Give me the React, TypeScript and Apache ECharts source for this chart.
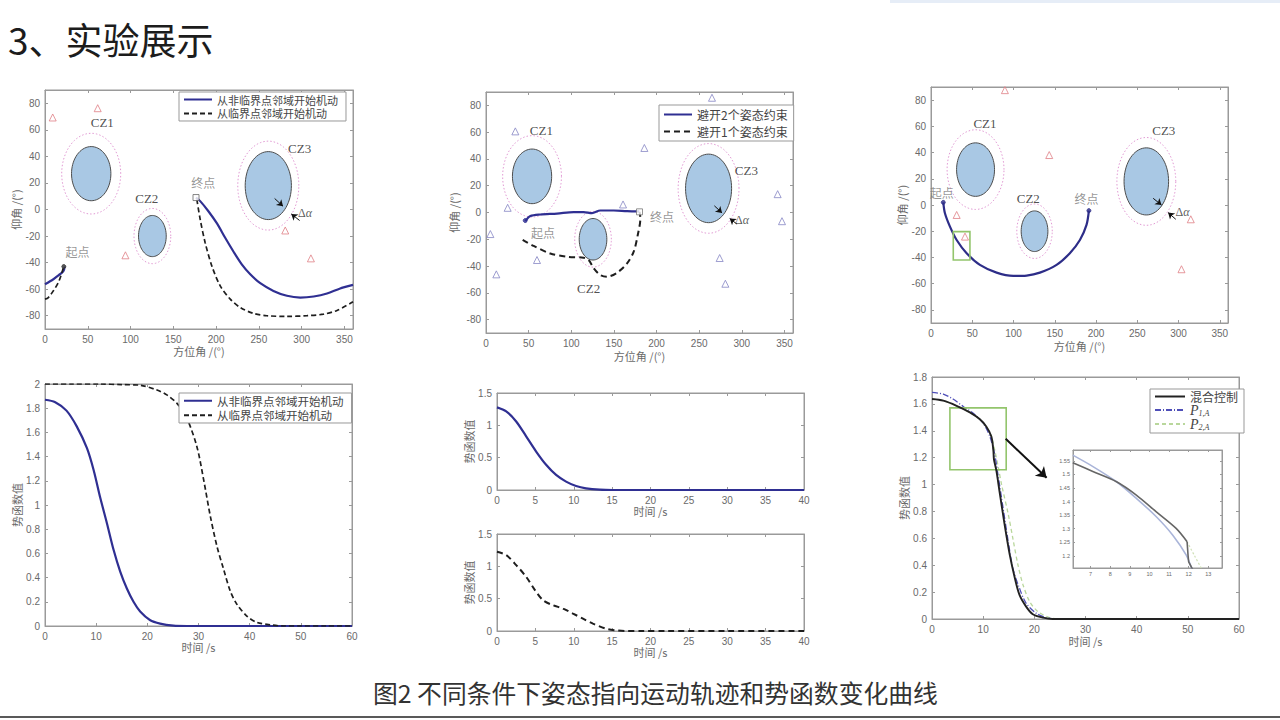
import React, { useEffect, useRef } from "react";
import * as echarts from "echarts";

// ---------- text ----------
const pageTitle = "3、实验展示";
const caption = "图2 不同条件下姿态指向运动轨迹和势函数变化曲线";
const N1 = "从非临界点邻域开始机动";
const N2 = "从临界点邻域开始机动";
const M1 = "避开2个姿态约束";
const M2 = "避开1个姿态约束";
const H1 = "混合控制";
const P1 = "P1,A";
const P2 = "P2,A";

// ---------- ticks ----------
const azTicks = [0, 50, 100, 150, 200, 250, 300, 350];
const elTicks = [-80, -60, -40, -20, 0, 20, 40, 60, 80];
const t60Ticks = [0, 10, 20, 30, 40, 50, 60];
const v2Ticks = [0, 0.2, 0.4, 0.6, 0.8, 1, 1.2, 1.4, 1.6, 1.8, 2];
const t40Ticks = [0, 5, 10, 15, 20, 25, 30, 35, 40];
const v15Ticks = [0, 0.5, 1, 1.5];
const v18Ticks = [0, 0.2, 0.4, 0.6, 0.8, 1, 1.2, 1.4, 1.6, 1.8];
const inXTicks = [7, 8, 9, 10, 11, 12, 13];
const inYTicks = [1.2, 1.25, 1.3, 1.35, 1.4, 1.45, 1.5, 1.55];

// ---------- constraint zones: cx, cy, rx, ry, outer rx, outer ry ----------
const zones = [
  [54, 27, 23, 20.4, 34.5, 30.4],
  [125.5, -20, 16.2, 15.5, 21.5, 20.8],
  [261, 18, 27, 25.6, 35.7, 33.5],
];

// ---------- chart 1 ----------
const c1SolidA = [[0, -56.3], [9.8, -52.5], [16, -49.5], [21.5, -46.5], [23, -43]];
const c1SolidB = [[176.5, 9], [181.4, 6.3], [191, -1.3], [201, -10.5], [210.6, -21.3], [220.4, -31.8], [230, -41.3], [239.9, -48.8], [251.6, -55.5], [267, -61.3], [282.8, -65], [298.4, -66.3], [314, -65.5], [329.6, -63.3], [345, -59.5], [360, -56.8]];
const c1DashA = [[0, -67.5], [3.9, -66.3], [10, -61], [15.6, -55], [19, -49], [21.5, -43.8]];
const c1DashB = [[177.5, 7.5], [181.4, -7.5], [187.2, -25], [195, -42.5], [204.8, -57.5], [216.5, -67.5], [228.2, -73.8], [243.8, -78.3], [259.4, -80], [282.8, -80.5], [306.2, -80], [325.7, -78.8], [341.3, -76], [360, -69.5]];
const c1Tri = [[9, 69.3], [61.6, 76.3], [94, -34.5], [280.8, -15.8], [310.8, -36.8]];
const c1Labels = [[67, 65.5, "CZ1"], [119, 8, "CZ2"], [297.6, 46, "CZ3"], [185, 20, "终点"], [38, -32, "起点"], [304, -2.5, "Δα"]];
const c1Arrows = [[[268.4, 8.3], [278.2, 2.5]], [[297.6, -8.3], [287.9, -3.3]]];
const c1Start = [[22, -43]];
const c1End = [[176.5, 9]];

// ---------- chart 2 ----------
const c2Solid = [[46.1, -6.5], [52, -2.7], [63.7, -1.5], [83.3, -0.8], [102.8, 0.3], [114.5, 0.3], [124.3, -0.5], [134, 1.5], [149.7, 1.5], [165.4, 1], [179.8, 0.8]];
const c2Dash = [[43, -20.4], [55.9, -25], [75.4, -30.6], [95, -33], [114.5, -33.8], [120.4, -35.5], [126.3, -41.7], [134, -46.7], [141.9, -48], [153.6, -45], [165.4, -38], [173.2, -29.3], [177.9, -17], [181, -4.5], [180.2, 0.5]];
const c2Tri = [[34.4, 60.6], [265, 85.7], [185.7, 48.2], [160.7, 6], [25.4, 3.5], [5.1, -16.1], [12.1, -46.2], [59.8, -35.5], [274, -34], [280.7, -53.2], [342, 13.7], [347.1, -6.5]];
const c2Labels = [[64.9, 61.4, "CZ1"], [120.4, -57, "CZ2"], [305.3, 31.5, "CZ3"], [206.4, -3.2, "终点"], [66.8, -15, "起点"], [300.2, -5.7, "Δα"]];
const c2Arrows = [[[267.8, 5], [276.8, -0.3]], [[294.4, -8.7], [285.8, -4.5]]];
const c2Start = [[46, -6]];
const c2End = [[180, 0.5]];

// ---------- chart 3 ----------
const c3Solid = [[14.9, 2], [16.9, -6.3], [23, -16.5], [31.1, -26.7], [43.2, -36.8], [59.3, -45.7], [79.5, -51.6], [99.7, -54.1], [115.9, -53.8], [132, -51.6], [152.2, -45.7], [168.3, -36.8], [180.5, -26.7], [188.5, -15.2], [191.4, -4.3]];
const c3Tri = [[89.6, 87.6], [143.3, 38.1], [31.1, -7.6], [41.2, -24.1], [303.6, -49], [314.9, -10.9]];
const c3Labels = [[12.9, 9.4, "起点"], [188.5, 5, "终点"], [65.4, 62.2, "CZ1"], [117.9, 5, "CZ2"], [282.2, 56.6, "CZ3"], [304.8, -5, "Δα"]];
const c3Arrows = [[[269.3, 5.1], [279.4, 0]], [[296.7, -10.9], [287.4, -5.8]]];
const c3Rect = [[27, -20.3, 47.2, -41.9]];
const c3Ends = [[14.9, 2], [191.4, -4.3]];

// ---------- chart 4 ----------
const c4Solid = [[0, 1.87], [2, 1.85], [4.2, 1.78], [6.2, 1.65], [8.2, 1.47], [9.5, 1.29], [10.8, 1.06], [12.1, 0.85], [13.4, 0.63], [14.7, 0.45], [16, 0.31], [17.3, 0.2], [18.6, 0.12], [20.5, 0.05], [22.5, 0.02], [25.1, 0.003], [27.7, 0], [30, 0], [40, 0], [50, 0], [60, 0]];
const c4Dash = [[0, 2], [5, 2], [10.8, 2], [15, 1.995], [18.6, 1.99], [21.9, 1.95], [23.8, 1.91], [25.8, 1.84], [27.7, 1.72], [29.7, 1.48], [31, 1.21], [32.3, 0.91], [33.6, 0.66], [34.9, 0.47], [36.2, 0.29], [37.5, 0.18], [39.5, 0.08], [41.4, 0.03], [44, 0.01], [46.6, 0], [50, 0], [55, 0], [60, 0]];

// ---------- chart 5 / 6 ----------
const c5Solid = [[0, 1.278], [1.2, 1.216], [2.5, 1.06], [3.8, 0.83], [5.1, 0.595], [6.4, 0.39], [7.7, 0.233], [9, 0.13], [10.3, 0.062], [11.6, 0.026], [13.4, 0.005], [15.1, 0], [17, 0], [20, 0], [30, 0], [40, 0]];
const c6Dash = [[0, 1.226], [1.2, 1.174], [2.5, 1.019], [3.8, 0.838], [4.9, 0.64], [6, 0.476], [7.3, 0.398], [8.6, 0.347], [9.9, 0.269], [11.2, 0.191], [12.5, 0.114], [14.2, 0.036], [15.5, 0.01], [16.8, 0], [19, 0], [22, 0], [30, 0], [40, 0]];

// ---------- chart 7 ----------
const c7Mix = [[0, 1.636], [2.2, 1.624], [4.8, 1.586], [7.4, 1.537], [9.3, 1.487], [10.6, 1.432], [11.6, 1.358], [12, 1.25], [12.1, 1.19], [12.6, 1.1], [13.2, 0.948], [14.2, 0.7], [15.2, 0.477], [16.2, 0.303], [17.1, 0.179], [18.4, 0.092], [19.7, 0.035], [21.7, 0.01], [23.6, 0], [26, 0], [30, 0], [45, 0], [60, 0]];
const c7P1 = [[0, 1.686], [2.2, 1.673], [4.1, 1.636], [6.1, 1.581], [8, 1.532], [10, 1.457], [11.3, 1.358], [12.2, 1.234], [12.9, 1.072], [13.9, 0.824], [14.9, 0.576], [15.8, 0.377], [17.1, 0.228], [18.4, 0.117], [20.4, 0.042], [22.3, 0.01], [24.3, 0], [27, 0], [30, 0], [45, 0], [60, 0]];
const c7P2 = [[0, 1.636], [2.2, 1.624], [4.8, 1.586], [7.4, 1.537], [9.3, 1.487], [10.6, 1.432], [11.6, 1.36], [12.3, 1.25], [12.9, 1.14], [13.6, 1.0], [14.9, 0.78], [15.8, 0.6], [16.8, 0.402], [17.8, 0.253], [19.1, 0.129], [20.7, 0.055], [23, 0.01], [25, 0], [28, 0], [32, 0], [45, 0], [60, 0]];
const c7Rect = [[3.5, 1.57, 14.5, 1.11]];
const c7Arrow = [[[14.4, 1.34], [22.4, 1.05]]];

// ---------- inset ----------
const inMixA = [[6.09, 1.543], [7.14, 1.51], [8.32, 1.473], [9.33, 1.424], [10.35, 1.362], [11.36, 1.301], [11.92, 1.252]];
const inMixB = [[11.92, 1.252], [11.97, 1.2], [12.0, 1.178], [12.2, 1.15]];
const inP1 = [[6.09, 1.571], [7.14, 1.528], [8.32, 1.473], [9.33, 1.412], [10.35, 1.344], [11.19, 1.276], [11.87, 1.203], [12.17, 1.15]];
const inP2 = [[11.92, 1.252], [12.3, 1.2], [12.68, 1.15]];

// ---------- styling ----------
const AX = "#9a9a9a";
const LBL = "#6a6a6a";
const CJK = "Noto Sans CJK SC";
const NAVY = "#2f2f92";

const grids = [
  { left: 45, top: 90, width: 308, height: 239 },
  { left: 486, top: 92, width: 307, height: 241 },
  { left: 931, top: 87, width: 297, height: 236 },
  { left: 45, top: 384, width: 307, height: 242 },
  { left: 497, top: 393, width: 307, height: 97 },
  { left: 497, top: 534, width: 307, height: 97 },
  { left: 932, top: 377, width: 307, height: 242 },
  { left: 1073, top: 450, width: 149, height: 118 },
];

function mkAxes(dim: "x" | "y", gi: number, min: number, max: number, ticks: number[], name?: string, gap?: number, fs = 10) {
  const base: any = {
    type: "value", gridIndex: gi, min, max,
    splitLine: { show: false },
    axisLine: { show: true, onZero: false, lineStyle: { color: AX, width: 1 } },
    axisTick: { show: true, inside: true, length: fs < 8 ? 2 : 3, customValues: ticks, lineStyle: { color: AX } },
  };
  const main = {
    ...base,
    position: dim === "x" ? "bottom" : "left",
    name, nameLocation: "middle", nameGap: gap,
    nameTextStyle: { color: "#6a6a6a", fontSize: 11, fontFamily: CJK },
    axisLabel: { show: true, customValues: ticks, color: LBL, fontSize: fs, fontFamily: "Liberation Sans", margin: fs < 8 ? 3 : 5 },
  };
  const mirror = { ...base, position: dim === "x" ? "top" : "right", axisLabel: { show: false } };
  return [main, mirror];
}

const xAxes: any[] = [
  ...mkAxes("x", 0, 0, 360, azTicks, "方位角 /(°)", 16),
  ...mkAxes("x", 1, 0, 360, azTicks, "方位角 /(°)", 17),
  ...mkAxes("x", 2, 0, 360, azTicks, "方位角 /(°)", 17),
  ...mkAxes("x", 3, 0, 60, t60Ticks, "时间 /s", 15),
  ...mkAxes("x", 4, 0, 40, t40Ticks, "时间 /s", 14),
  ...mkAxes("x", 5, 0, 40, t40Ticks, "时间 /s", 14),
  ...mkAxes("x", 6, 0, 60, t60Ticks, "时间 /s", 16),
  ...mkAxes("x", 7, 6.1, 13.7, inXTicks, undefined, undefined, 5.5),
];
const yAxes: any[] = [
  ...mkAxes("y", 0, -90, 90, elTicks, "仰角 /(°)", 24),
  ...mkAxes("y", 1, -90, 90, elTicks, "仰角 /(°)", 27),
  ...mkAxes("y", 2, -90, 90, elTicks, "仰角 /(°)", 21),
  ...mkAxes("y", 3, 0, 2, v2Ticks, "势函数值", 21),
  ...mkAxes("y", 4, 0, 1.5, v15Ticks, "势函数值", 18),
  ...mkAxes("y", 5, 0, 1.5, v15Ticks, "势函数值", 18),
  ...mkAxes("y", 6, 0, 1.8, v18Ticks, "势函数值", 20),
  ...mkAxes("y", 7, 1.155, 1.59, inYTicks, undefined, undefined, 5.5),
];

const ax = (gi: number) => ({ xAxisIndex: gi * 2, yAxisIndex: gi * 2 });

function line(gi: number, name: string, data: number[][], ls: any, extra: any = {}) {
  return { type: "line", name, ...ax(gi), data, symbol: "none", smooth: 0.3, lineStyle: ls, itemStyle: { color: ls.color }, z: 4, silent: true, ...extra };
}

function zoneSeries(gi: number) {
  return {
    type: "custom", name: "zones" + gi, ...ax(gi), data: zones, encode: { x: 0, y: 1 }, z: 2, silent: true,
    renderItem: (_p: any, api: any) => {
      const cx = api.value(0), cy = api.value(1);
      const ring = (a: number, b: number) => {
        const pts: number[][] = [];
        for (let k = 0; k <= 72; k++) {
          const t = (k / 72) * Math.PI * 2;
          pts.push(api.coord([cx + a * Math.cos(t), cy + b * Math.sin(t)]));
        }
        return pts;
      };
      return {
        type: "group",
        children: [
          { type: "polygon", shape: { points: ring(api.value(4), api.value(5)) }, style: { fill: "none", stroke: "#e29ad4", lineWidth: 1, lineDash: [1.5, 2] } },
          { type: "polygon", shape: { points: ring(api.value(2), api.value(3)) }, style: { fill: "#a9c8e4", stroke: "#4d4d4d", lineWidth: 1 } },
        ],
      };
    },
  };
}

function rectSeries(gi: number, data: number[][]) {
  return {
    type: "custom", name: "rect" + gi, ...ax(gi), data, encode: { x: [0, 2], y: [1, 3] }, z: 5, silent: true,
    renderItem: (_p: any, api: any) => {
      const a = api.coord([api.value(0), api.value(1)]);
      const b = api.coord([api.value(2), api.value(3)]);
      return {
        type: "rect",
        shape: { x: Math.min(a[0], b[0]), y: Math.min(a[1], b[1]), width: Math.abs(b[0] - a[0]), height: Math.abs(b[1] - a[1]) },
        style: { fill: "none", stroke: "#93c56c", lineWidth: 1.6 },
      };
    },
  };
}

function labelStyle(t: string) {
  if (t.startsWith("CZ")) return { fontFamily: "Liberation Serif", fontSize: 13, color: "#222" };
  if (t === "Δα") return { formatter: "{a|Δ}{b|α}", rich: { a: { fontFamily: "Liberation Serif", fontSize: 12, color: "#333" }, b: { fontFamily: "Liberation Serif", fontStyle: "italic", fontSize: 12, color: "#333" } } };
  return { fontFamily: CJK, fontSize: 12, color: "#7a7a7a" };
}

function labelSeries(gi: number, labels: any[]) {
  return {
    type: "scatter", name: "labels" + gi, ...ax(gi), symbolSize: 1, itemStyle: { color: "rgba(0,0,0,0)" }, silent: true, z: 7,
    label: { show: true, position: "inside" },
    data: labels.map(([x, y, t]) => ({ value: [x, y], label: { formatter: t, ...labelStyle(t) } })),
  };
}

function triSeries(gi: number, data: number[][], color: string) {
  return { type: "scatter", name: "tri" + gi, ...ax(gi), data, symbol: "triangle", symbolSize: 7, silent: true, z: 5, itemStyle: { color: "rgba(255,255,255,0)", borderColor: color, borderWidth: 1 } };
}

function arrowSeries(gi: number, data: number[][][], width = 1, size = 6) {
  return {
    type: "lines", name: "arrows" + gi, coordinateSystem: "cartesian2d", ...ax(gi), silent: true, z: 6,
    symbol: ["none", "arrow"], symbolSize: size,
    lineStyle: { color: "#111", width, opacity: 1, curveness: 0 },
    data: data.map((c) => ({ coords: c })),
  };
}

function markerSeries(gi: number, data: number[][], symbol: string, size: number, fill: string, border: string) {
  return { type: "scatter", name: "mk" + gi + symbol, ...ax(gi), data, symbol, symbolSize: size, silent: true, z: 6, itemStyle: { color: fill, borderColor: border, borderWidth: 1 } };
}

const SOLID = { color: NAVY, width: 2.2 };
const DASH = { color: "#1e1e1e", width: 1.7, type: [5, 3] };

const legendBase = {
  orient: "vertical", selectedMode: false, borderColor: "#999", borderWidth: 1, backgroundColor: "#fff",
  itemWidth: 28, itemHeight: 12, itemGap: 3, padding: [2, 8, 2, 4], z: 10,
  itemStyle: { opacity: 0 },
  textStyle: { fontFamily: CJK, fontSize: 11, color: "#444" },
};

const option: any = {
  animation: false,
  backgroundColor: "#fff",
  title: [
    { text: pageTitle, left: 3, top: 15, textStyle: { fontFamily: CJK, fontSize: 37, fontWeight: "normal", color: "#1c1c1c" } },
    { text: caption, left: 368, top: 675, textStyle: { fontFamily: CJK, fontSize: 24.8, fontWeight: "normal", color: "#333" } },
  ],
  graphic: [
    { type: "rect", shape: { x: 890, y: 0, width: 390, height: 3 }, style: { fill: "#e6edf7" } },
    { type: "line", shape: { x1: 0, y1: 717, x2: 1280, y2: 717 }, style: { stroke: "#222", lineWidth: 1.5 } },
  ],
  grid: grids.map((g) => ({ ...g, show: true, borderColor: AX, borderWidth: 1, backgroundColor: "#fff", containLabel: false })),
  xAxis: xAxes,
  yAxis: yAxes,
  legend: [
    { ...legendBase, data: [N1, N2], left: 179, top: 92 },
    { ...legendBase, data: [M1, M2], left: 659, top: 105, itemHeight: 10, itemGap: 2, padding: [2, 6, 2, 4], textStyle: { fontFamily: CJK, fontSize: 12, color: "#444", lineHeight: 15 } },
    { ...legendBase, data: [N1, N2], left: 179, top: 393, itemGap: 3, textStyle: { fontFamily: CJK, fontSize: 11.5, color: "#444" } },
    {
      ...legendBase, data: [H1, P1, P2], left: 1150, top: 389, itemWidth: 30, itemHeight: 10, itemGap: 0, padding: [1, 6, 2, 4],
      formatter: (n: string) => (n === H1 ? n : `{i|P}{s|${n.slice(1)}}`),
      textStyle: {
        fontFamily: CJK, fontSize: 12, color: "#444", lineHeight: 13,
        rich: {
          i: { fontFamily: "Liberation Serif", fontStyle: "italic", fontSize: 14, color: "#444", lineHeight: 13 },
          s: { fontFamily: "Liberation Serif", fontStyle: "italic", fontSize: 8, color: "#444", padding: [6, 0, 0, 0], lineHeight: 13 },
        },
      },
    },
  ],
  series: [
    // chart 1
    zoneSeries(0),
    triSeries(0, c1Tri, "#e07f86"),
    line(0, N1, c1SolidA, SOLID),
    line(0, N1, c1SolidB, SOLID),
    line(0, N2, c1DashA, DASH),
    line(0, N2, c1DashB, DASH),
    markerSeries(0, c1Start, "circle", 4, "#333", "#333"),
    markerSeries(0, c1End, "rect", 6, "#fff", "#666"),
    arrowSeries(0, c1Arrows),
    labelSeries(0, c1Labels),
    // chart 2
    zoneSeries(1),
    triSeries(1, c2Tri, "#8686c4"),
    line(1, M1, c2Solid, SOLID),
    line(1, M2, c2Dash, { color: "#1e1e1e", width: 2, type: [6, 4] }),
    markerSeries(1, c2Start, "circle", 4, NAVY, NAVY),
    markerSeries(1, c2End, "rect", 6, "#fff", "#777"),
    arrowSeries(1, c2Arrows),
    labelSeries(1, c2Labels),
    // chart 3
    zoneSeries(2),
    triSeries(2, c3Tri, "#e07f86"),
    line(2, "traj3", c3Solid, { color: "#2d2d88", width: 2.2 }),
    markerSeries(2, c3Ends, "circle", 4, "#2d2d88", "#2d2d88"),
    rectSeries(2, c3Rect),
    arrowSeries(2, c3Arrows),
    labelSeries(2, c3Labels),
    // chart 4
    line(3, N1, c4Solid, SOLID),
    line(3, N2, c4Dash, DASH),
    // chart 5 / 6
    line(4, "pot5", c5Solid, SOLID),
    line(5, "pot6", c6Dash, { color: "#1e1e1e", width: 2, type: [6, 4] }),
    // chart 7
    line(6, P2, c7P2, { color: "#b9d79c", width: 1.3, type: [4, 3] }, { z: 3 }),
    line(6, P1, c7P1, { color: "#4f4fb8", width: 1.3, type: [6, 2, 1, 2] }, { z: 4 }),
    line(6, H1, c7Mix, { color: "#222", width: 1.9 }, { z: 5 }),
    rectSeries(6, c7Rect),
    arrowSeries(6, c7Arrow, 2, 10),
    // inset
    line(7, "inP2", inP2, { color: "#cfe0b6", width: 1.2, type: [2, 2] }),
    line(7, "inP1", inP1, { color: "#aab5d9", width: 1.6 }),
    line(7, "inMixA", inMixA, { color: "#666", width: 1.6 }),
    line(7, "inMixB", inMixB, { color: "#666", width: 1.6 }, { smooth: false }),
  ],
};

export default function App() {
  const ref = useRef<HTMLDivElement>(null);
  useEffect(() => {
    if (!ref.current) return;
    const chart = echarts.init(ref.current, undefined, { renderer: "svg" });
    chart.setOption(option);
    return () => chart.dispose();
  }, []);
  return <div ref={ref} style={{ position: "absolute", left: 0, top: 0, width: 1280, height: 720 }} />;
}
